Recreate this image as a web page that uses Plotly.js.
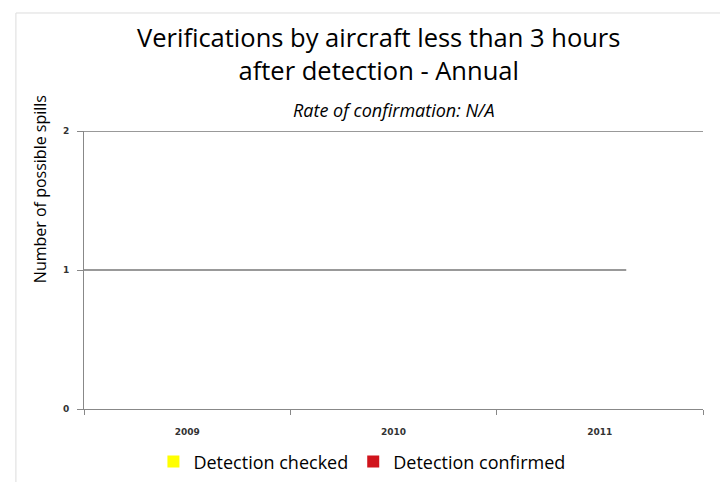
<!DOCTYPE html>
<html>
<head>
<meta charset="utf-8">
<script src="https://cdn.plot.ly/plotly-3.0.1.min.js"></script>
<style>
  html, body { margin: 0; padding: 0; background: #fff; }
  #chart { width: 720px; height: 482px; }
</style>
</head>
<body>
<div id="chart"></div>
<script>
var years = ["2009", "2010", "2011"];
var checked = [0, 0, 0];
var confirmed = [0, 0, 0];
var yTicks = [0, 1, 2];

var trace1 = {
  x: years,
  y: checked,
  type: "bar",
  name: "Detection checked",
  marker: { color: "#ffff00", line: { color: "#8a8a00", width: 0 } },
};

var trace2 = {
  x: years,
  y: confirmed,
  type: "bar",
  name: "Detection confirmed",
  marker: { color: "#d0141c", line: { color: "#8a0000", width: 0 } },
};

var font = "'Open Sans', sans-serif";
var tickFont = { size: 9, family: "'DejaVu Sans', sans-serif", color: "#333", weight: "bold" };

var layout = {
  width: 720,
  height: 482,
  margin: { l: 84, r: 17, t: 131, b: 73, autoexpand: false },
  paper_bgcolor: "#fff",
  plot_bgcolor: "#fff",
  font: { family: font, color: "#000" },
  showlegend: true,
  barmode: "group",
  legend: {
    orientation: "h",
    x: 0.449,
    xanchor: "center",
    y: -0.19,
    yanchor: "middle",
    bgcolor: "rgba(0,0,0,0)",
    font: { size: 18, family: font },
    itemwidth: 30,
    traceorder: "normal",
  },
  xaxis: {
    type: "category",
    showgrid: false,
    showline: true,
    linecolor: "#888",
    linewidth: 1,
    ticks: "outside",
    tickson: "boundaries",
    ticklen: 5,
    tickcolor: "#888",
    ticklabelstandoff: 14,
    tickfont: tickFont,
    fixedrange: true,
  },
  yaxis: {
    range: [0, 2],
    tickvals: yTicks,
    showgrid: false,
    zeroline: false,
    showline: true,
    linecolor: "#888",
    ticks: "outside",
    ticklen: 6,
    tickcolor: "#888",
    ticklabelstandoff: 6,
    tickfont: tickFont,
  },
  shapes: [
    {
      type: "line", xref: "paper", yref: "y",
      x0: 0, x1: 1, y0: 2, y1: 2,
      line: { color: "#999", width: 2 },
    },
    {
      type: "line", xref: "paper", yref: "y",
      x0: 0, x1: 0.876, y0: 1, y1: 1,
      line: { color: "#999", width: 2 },
    },
    {
      type: "rect", xref: "paper", yref: "paper",
      x0: -0.11, x1: 1.2, y0: -1, y1: 1.4245,
      line: { color: "#dcdcdc", width: 1 },
      layer: "below",
    },
  ],
  annotations: [
    {
      xref: "paper", yref: "paper",
      x: 0.476, y: 1.28, yanchor: "middle",
      showarrow: false,
      text: "Verifications by aircraft less than 3 hours<br>after detection - Annual",
      font: { size: 25.5, family: font, color: "#000" },
    },
    {
      xref: "paper", yref: "paper",
      x: 0.5, y: 1.075, yanchor: "middle",
      showarrow: false,
      text: "<i>Rate of confirmation: N/A</i>",
      font: { size: 18, family: font, color: "#000" },
    },
    {
      xref: "paper", yref: "paper",
      x: -0.071, y: 0.791, xanchor: "center", yanchor: "middle",
      textangle: -90,
      showarrow: false,
      text: "Number of possible spills",
      font: { size: 16, family: font, color: "#000" },
    },
  ],
};

Plotly.newPlot("chart", [trace1, trace2], layout, { displayModeBar: false, staticPlot: true });
</script>
</body>
</html>
